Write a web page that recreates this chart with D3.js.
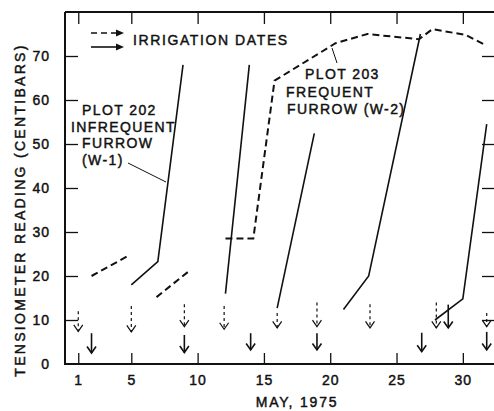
<!DOCTYPE html>
<html><head><meta charset="utf-8">
<script src="https://cdn.jsdelivr.net/npm/d3@7"></script>
<style>
html,body{margin:0;padding:0;background:#fff;}
svg{display:block;}
text{font-family:"Liberation Sans",Arial,sans-serif;fill:#111;stroke:#111;stroke-width:0.45px;}
</style></head>
<body><svg id="c" width="494" height="411"></svg>
<script>
// ---- data ----
const xTicks = [1, 5, 10, 15, 20, 25, 30];
const yTicks = [0, 10, 20, 30, 40, 50, 60, 70];
// Plot 202, infrequent furrow (W-1): solid segments
const plot202Days   = [[5, 7, 8.9], [12.1, 13.9], [16, 18.8], [21, 22.9, 26.8], [27.9, 30, 31.8]];
const plot202Values = [[18, 23.3, 68], [16, 68], [12.7, 52.4], [12.4, 20, 75], [10, 14.8, 54.5]];
// Plot 203, frequent furrow (W-2): dashed segments
const plot203Days   = [[2, 4.9], [6.9, 9.3], [12.1, 14.2, 15.8, 20.4, 22.8, 26.7, 27.7, 30.2, 31.7]];
const plot203Values = [[20, 24.8], [15.2, 21], [28.5, 28.5, 64.4, 72.9, 75, 73.8, 76.1, 74.8, 72.5]];
// irrigation dates (dashed arrows = plot 203, solid arrows = plot 202)
const dashedArrowDays = [1, 5, 9, 12, 16, 19, 23, 28, 31.8];
const dashedArrowTop  = [12, 13.2, 13.6, 13.2, 11.6, 14, 13.6, 14, 11.6];
const dashedArrowBot  = [7.4, 7.3, 8.5, 7.9, 8.2, 8.5, 8.2, 8.2, 8.5];
const solidArrowDays  = [2, 9, 14, 19, 26.9, 28.9, 31.8];
const solidArrowTop   = [7, 6.6, 7, 7, 7.1, 13.5, 7.3];
const solidArrowBot   = [2.5, 2.6, 3.2, 3.2, 2.8, 8.2, 3.2];

// ---- layout ----
const svg = d3.select("#c");
const L = 65, R = 494, T = 12, B = 364;
const x = d3.scaleLinear().domain([0, 32.35]).range([L, R]);
const y = d3.scaleLinear().domain([0, 80]).range([B, T]);
const fs = 14;

// axes
const gx = svg.append("g").attr("transform", `translate(0,${B})`)
  .call(d3.axisBottom(x).tickValues(xTicks).tickSize(-11).tickPadding(11).tickFormat(d3.format("d")));
const gxt = svg.append("g").attr("transform", `translate(0,${T})`)
  .call(d3.axisTop(x).tickValues(xTicks).tickSize(-12).tickFormat(""));
const gy = svg.append("g").attr("transform", `translate(${L},0)`)
  .call(d3.axisLeft(y).tickValues(yTicks).tickSize(-13).tickPadding(15).tickFormat(d3.format("d")));
const gyr = svg.append("g").attr("transform", `translate(${R},0)`)
  .call(d3.axisRight(y).tickValues(yTicks.slice(1)).tickSize(-12).tickFormat(""));
[gx, gxt, gy, gyr].forEach(g => {
  g.select(".domain").remove();
  g.selectAll(".tick line").attr("stroke", "#111").attr("stroke-width", 1.3);
  g.selectAll("text").attr("font-size", fs).attr("letter-spacing", 1).attr("fill", "#111")
   .style("font-family", '"Liberation Sans",Arial,sans-serif');
});
gy.selectAll(".tick").filter(d => d === 0).select("line").remove();

// frame
svg.append("path").attr("d", `M${L},${T}H${R}M${L},${T}V${B}H${R}`)
  .attr("fill", "none").attr("stroke", "#111").attr("stroke-width", 2);

// axis titles
svg.append("text").attr("x", 297).attr("y", 407).attr("text-anchor", "middle")
  .attr("font-size", fs).attr("letter-spacing", 1.8).text("MAY, 1975");
svg.append("text").attr("transform", "translate(25,210) rotate(-90)").attr("text-anchor", "middle")
  .attr("font-size", fs).attr("letter-spacing", 2.3).text("TENSIOMETER READING (CENTIBARS)");

// data lines
const line = d3.line().x(d => x(d[0])).y(d => y(d[1]));
plot202Days.forEach((days, i) => {
  svg.append("path").datum(days.map((d, j) => [d, plot202Values[i][j]]))
    .attr("d", line).attr("fill", "none").attr("stroke", "#111").attr("stroke-width", 1.6);
});
plot203Days.forEach((days, i) => {
  svg.append("path").datum(days.map((d, j) => [d, plot203Values[i][j]]))
    .attr("d", line).attr("fill", "none").attr("stroke", "#111").attr("stroke-width", 2)
    .attr("stroke-dasharray", "7,4");
});

// irrigation arrows
function arrow(day, top, bot, dashed) {
  const ax = x(day), y1 = y(top), y2 = y(bot);
  svg.append("line").attr("x1", ax).attr("x2", ax).attr("y1", y1).attr("y2", y2)
    .attr("stroke", "#111").attr("stroke-width", dashed ? 1.2 : 1.6)
    .attr("stroke-dasharray", dashed ? "3,3" : null);
  svg.append("path").attr("d", `M${ax - 4.5},${y2 - 6.5}L${ax},${y2}L${ax + 4.5},${y2 - 6.5}`)
    .attr("fill", "none").attr("stroke", "#111").attr("stroke-width", dashed ? 1.2 : 1.6);
}
dashedArrowDays.forEach((d, i) => arrow(d, dashedArrowTop[i], dashedArrowBot[i], true));
solidArrowDays.forEach((d, i) => arrow(d, solidArrowTop[i], solidArrowBot[i], false));

// legend
svg.append("line").attr("x1", 91).attr("x2", 118).attr("y1", 33).attr("y2", 33)
  .attr("stroke", "#111").attr("stroke-width", 1.6).attr("stroke-dasharray", "6,4");
svg.append("path").attr("d", "M116,29.5L124,33L116,36.5Z").attr("fill", "#111");
svg.append("line").attr("x1", 91).attr("x2", 118).attr("y1", 47).attr("y2", 47)
  .attr("stroke", "#111").attr("stroke-width", 1.6);
svg.append("path").attr("d", "M116,43.5L124,47L116,50.5Z").attr("fill", "#111");
svg.append("text").attr("x", 133).attr("y", 45).attr("font-size", fs).attr("letter-spacing", 1.6)
  .text("IRRIGATION DATES");

// annotations
const ann202 = [["PLOT 202", 82, 115], ["INFREQUENT", 71, 132], ["FURROW", 82, 148], ["(W-1)", 82, 165]];
ann202.forEach(a => svg.append("text").attr("x", a[1]).attr("y", a[2]).attr("font-size", fs)
  .attr("letter-spacing", 1.4).text(a[0]));
svg.append("line").attr("x1", 128).attr("y1", 163).attr("x2", 166).attr("y2", 182)
  .attr("stroke", "#111").attr("stroke-width", 1);
const ann203 = [["PLOT 203", 305, 79], ["FREQUENT", 286, 97], ["FURROW (W-2)", 287, 114]];
ann203.forEach(a => svg.append("text").attr("x", a[1]).attr("y", a[2]).attr("font-size", fs)
  .attr("letter-spacing", 1.4).text(a[0]));
svg.append("line").attr("x1", 337).attr("y1", 63).attr("x2", 332).attr("y2", 48)
  .attr("stroke", "#111").attr("stroke-width", 1);
</script></body></html>
